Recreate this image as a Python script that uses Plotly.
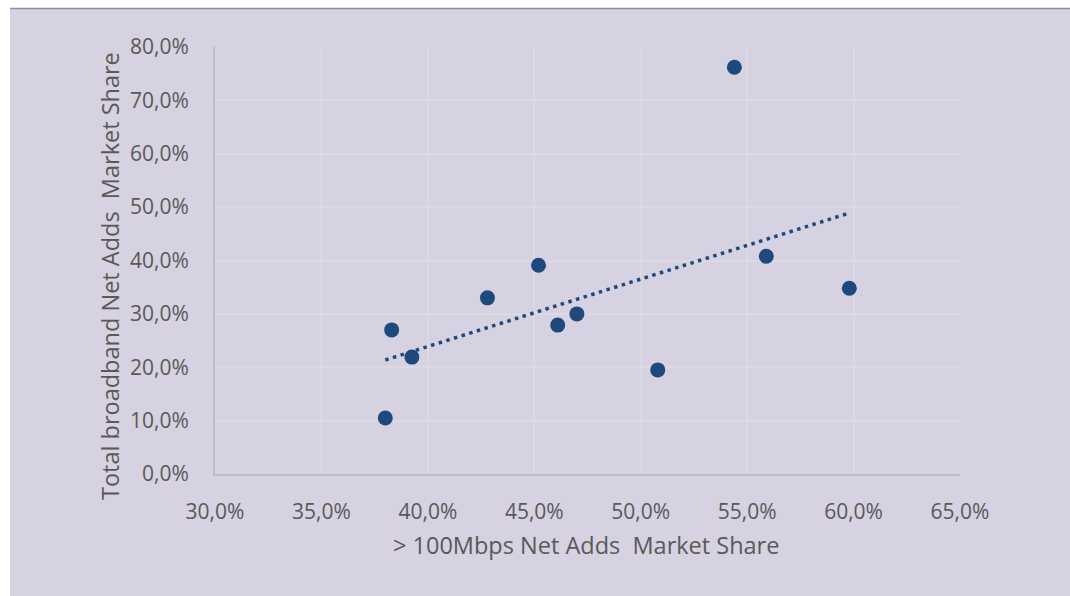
import numpy as np
import plotly.graph_objects as go

# Net adds market share per operator (fractions)
speed_share = [0.380, 0.383, 0.3925, 0.428, 0.452, 0.461, 0.470, 0.508, 0.544, 0.559, 0.598]
total_share = [0.105, 0.270, 0.219, 0.330, 0.391, 0.279, 0.300, 0.195, 0.762, 0.408, 0.348]

x_ticks = [0.30, 0.35, 0.40, 0.45, 0.50, 0.55, 0.60, 0.65]
y_ticks = [0.0, 0.1, 0.2, 0.3, 0.4, 0.5, 0.6, 0.7, 0.8]

x_title = "> 100Mbps Net Adds  Market Share"
y_title = "Total broadband Net Adds  Market Share"

BG = "#d6d2e1"
MARK = "#1f497d"
TEXT = "#595959"
FONT = "Open Sans"

# Linear trend line over the observed range
slope, intercept = np.polyfit(speed_share, total_share, 1)
trend_x = [min(speed_share), max(speed_share)]
trend_y = [slope * v + intercept for v in trend_x]

fig = go.Figure()
fig.add_trace(go.Scatter(
    x=trend_x, y=trend_y, mode="lines",
    line=dict(color=MARK, width=3.5, dash="3.5px,4.5px"),
    hoverinfo="skip", showlegend=False,
))
fig.add_trace(go.Scatter(
    x=speed_share, y=total_share, mode="markers",
    marker=dict(color=MARK, size=15, line=dict(width=0)),
    showlegend=False,
))

W, H = 1070, 596
L, R, T, B = 215, 110, 47, 122
pw, ph = W - L - R, H - T - B

def px(xp):
    return (xp - L) / pw

def py(yp):
    return (H - B - yp) / ph

shapes = [
    # white strip on the left and at the top, framing the lavender panel
    dict(type="rect", xref="paper", yref="paper", layer="below",
         x0=px(0), x1=px(10), y0=py(H), y1=py(0),
         fillcolor="white", line=dict(width=0)),
    dict(type="rect", xref="paper", yref="paper", layer="below",
         x0=px(0), x1=px(W), y0=py(8), y1=py(0),
         fillcolor="white", line=dict(width=0)),
    dict(type="line", xref="paper", yref="paper",
         x0=px(10), x1=px(W), y0=py(8.5), y1=py(8.5),
         line=dict(color="#8f88aa", width=1.5)),
]

annotations = [
    dict(text=x_title, xref="paper", yref="paper", x=px(586), y=py(545),
         xanchor="center", yanchor="middle", showarrow=False,
         font=dict(size=23.5, color=TEXT, family=FONT)),
    dict(text=y_title, xref="paper", yref="paper", x=px(110), y=py(276),
         xanchor="center", yanchor="middle", showarrow=False, textangle=-90,
         font=dict(size=23.5, color=TEXT, family=FONT)),
]

fig.update_layout(
    width=W, height=H,
    margin=dict(l=L, r=R, t=T, b=B),
    paper_bgcolor=BG, plot_bgcolor=BG,
    separators=",.",
    font=dict(family=FONT, color=TEXT),
    shapes=shapes,
    annotations=annotations,
    xaxis=dict(
        range=[0.30, 0.65], tickvals=x_ticks, tickformat=".1%",
        showgrid=True, gridcolor="#dcd9e2", gridwidth=2,
        showline=True, linecolor="#bfbcc6", linewidth=2,
        zeroline=False,
        ticks="outside", ticklen=18, tickcolor="rgba(0,0,0,0)",
        tickfont=dict(size=21, color=TEXT, family=FONT),
    ),
    yaxis=dict(
        range=[0.0, 0.80], tickvals=y_ticks, tickformat=".1%",
        showgrid=True, gridcolor="#dcd9e2", gridwidth=2,
        showline=True, linecolor="#bfbcc6", linewidth=2,
        zeroline=False,
        ticks="outside", ticklen=20, tickcolor="rgba(0,0,0,0)",
        tickfont=dict(size=21, color=TEXT, family=FONT),
    ),
)

fig.write_html("out.html")
